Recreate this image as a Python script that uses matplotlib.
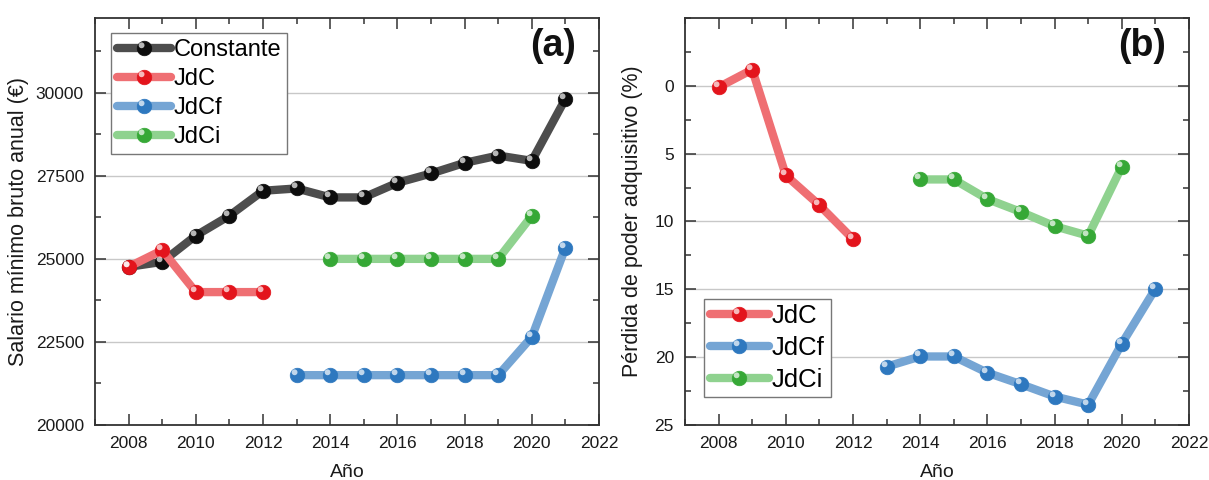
"""Salario mínimo y pérdida de poder adquisitivo, paneles (a) y (b)."""

import matplotlib

matplotlib.use("Agg")

import matplotlib.pyplot as plt
import numpy as np
from matplotlib.legend_handler import HandlerTuple
from matplotlib.path import Path
from matplotlib.ticker import MultipleLocator

plt.rcParams["font.family"] = ["Liberation Sans", "DejaVu Sans"]

# ---- data -----------------------------------------------------------------
years_constante = [2008, 2009, 2010, 2011, 2012, 2013, 2014, 2015, 2016,
                   2017, 2018, 2019, 2020, 2021]
salario_constante = [24760, 24910, 25700, 26300, 27050, 27120, 26850, 26850,
                     27290, 27570, 27890, 28110, 27950, 29820]

years_jdc = [2008, 2009, 2010, 2011, 2012]
salario_jdc = [24760, 25260, 24000, 24000, 24000]

years_jdcf = [2013, 2014, 2015, 2016, 2017, 2018, 2019, 2020, 2021]
salario_jdcf = [21500, 21500, 21500, 21500, 21500, 21500, 21500, 22650, 25340]

years_jdci = [2014, 2015, 2016, 2017, 2018, 2019, 2020]
salario_jdci = [25000, 25000, 25000, 25000, 25000, 25000, 26300]

perdida_jdc = [0.1, -1.2, 6.6, 8.8, 11.3]
perdida_jdcf = [20.7, 19.95, 19.95, 21.15, 22.0, 22.9, 23.5, 19.0, 14.95]
perdida_jdci = [6.9, 6.9, 8.35, 9.3, 10.35, 11.05, 5.95]

# ---- styles ---------------------------------------------------------------
STYLES = {
    "Constante": {"line": "#4d4d4d", "marker": "#0d0d0d"},
    "JdC": {"line": "#ef6f73", "marker": "#e3141c"},
    "JdCf": {"line": "#75a5d4", "marker": "#2e78bf"},
    "JdCi": {"line": "#8fd28f", "marker": "#36a836"},
}

# small offset circle used as a "shine" on each sphere-like marker.
# matplotlib scales a path marker so its largest |coord| becomes 0.5, so a
# symmetric frame point at +-1 keeps the spot at a fixed relative offset.
_t = np.linspace(0, 2 * np.pi, 40)
_hl = np.column_stack([-0.2 + 0.2 * np.cos(_t), 0.22 + 0.2 * np.sin(_t)])
_frame = np.array([[1.0, 1.0], [1.0, 1.0]])
HIGHLIGHT = Path(
    np.vstack([_hl, _hl[:1], _frame]),
    [Path.MOVETO] + [Path.LINETO] * (len(_hl) - 1) + [Path.CLOSEPOLY]
    + [Path.MOVETO, Path.LINETO],
)

MS = 10.5
LW = 6.0
TEXT = "#1a1a1a"


def draw_series(ax, xs, ys, name):
    style = STYLES[name]
    (line,) = ax.plot(
        xs, ys,
        color=style["line"],
        linewidth=LW,
        solid_capstyle="round",
        marker="o",
        markersize=MS,
        markerfacecolor=style["marker"],
        markeredgecolor=style["marker"],
        markeredgewidth=0.5,
        zorder=3,
    )
    (shine,) = ax.plot(
        xs, ys,
        linestyle="none",
        marker=HIGHLIGHT,
        markersize=MS * 2,
        markerfacecolor="white",
        markeredgewidth=0,
        alpha=0.7,
        zorder=4,
    )
    return (line, shine)


def style_axes(ax):
    ax.set_xlim(2007, 2022)
    ax.xaxis.set_major_locator(MultipleLocator(2))
    ax.xaxis.set_minor_locator(MultipleLocator(1))
    ax.tick_params(which="both", direction="in", top=True, right=True,
                   labelsize=12.5, colors="#333333", labelcolor=TEXT, pad=8)
    ax.tick_params(which="major", length=8, width=1.1)
    ax.tick_params(which="minor", length=4, width=1.1)
    for spine in ax.spines.values():
        spine.set_linewidth(1.3)
        spine.set_color("#333333")
    ax.grid(True, axis="y", which="major", color="#c8c8c8", linewidth=1.0, zorder=0)
    ax.set_axisbelow(True)
    ax.set_xlabel("Año", fontsize=14, color=TEXT, labelpad=9)


fig = plt.figure(figsize=(12.09, 4.8), dpi=100)
ax_a = fig.add_axes([0.0786, 0.1146, 0.4169, 0.8479])
ax_b = fig.add_axes([0.5666, 0.1146, 0.4169, 0.8479])

# ---- panel (a) ------------------------------------------------------------
style_axes(ax_a)
h_const = draw_series(ax_a, years_constante, salario_constante, "Constante")
h_jdc = draw_series(ax_a, years_jdc, salario_jdc, "JdC")
h_jdcf = draw_series(ax_a, years_jdcf, salario_jdcf, "JdCf")
h_jdci = draw_series(ax_a, years_jdci, salario_jdci, "JdCi")
ax_a.set_ylim(20000, 32250)
ax_a.set_yticks([20000, 22500, 25000, 27500, 30000])
ax_a.yaxis.set_minor_locator(MultipleLocator(1250))
ax_a.set_ylabel("Salario mínimo bruto anual (€)", fontsize=15.5, color=TEXT, labelpad=5)
ax_a.text(0.955, 0.93, "(a)", transform=ax_a.transAxes, ha="right", va="center",
          fontsize=27, fontweight="bold", color="#111111")
leg_a = ax_a.legend(
    [h_const, h_jdc, h_jdcf, h_jdci], ["Constante", "JdC", "JdCf", "JdCi"],
    handler_map={tuple: HandlerTuple(ndivide=1)},
    loc="upper left", bbox_to_anchor=(0.031, 0.963),
    fontsize=17, handlelength=2.3, handletextpad=0.12, labelspacing=0.3,
    borderpad=0.25, borderaxespad=0.0, fancybox=False, framealpha=1,
    edgecolor="#777777",
)
leg_a.get_frame().set_linewidth(1.0)

# ---- panel (b) ------------------------------------------------------------
style_axes(ax_b)
hb_jdc = draw_series(ax_b, years_jdc, perdida_jdc, "JdC")
hb_jdcf = draw_series(ax_b, years_jdcf, perdida_jdcf, "JdCf")
hb_jdci = draw_series(ax_b, years_jdci, perdida_jdci, "JdCi")
ax_b.set_ylim(25, -5)
ax_b.set_yticks([0, 5, 10, 15, 20, 25])
ax_b.yaxis.set_minor_locator(MultipleLocator(2.5))
ax_b.set_ylabel("Pérdida de poder adquisitivo (%)", fontsize=15.5, color=TEXT, labelpad=8)
ax_b.text(0.955, 0.93, "(b)", transform=ax_b.transAxes, ha="right", va="center",
          fontsize=27, fontweight="bold", color="#111111")
leg_b = ax_b.legend(
    [hb_jdc, hb_jdcf, hb_jdci], ["JdC", "JdCf", "JdCi"],
    handler_map={tuple: HandlerTuple(ndivide=1)},
    loc="lower left", bbox_to_anchor=(0.038, 0.068),
    fontsize=18.5, handlelength=2.3, handletextpad=0.12, labelspacing=0.3,
    borderpad=0.22, borderaxespad=0.0, fancybox=False, framealpha=1,
    edgecolor="#777777",
)
leg_b.get_frame().set_linewidth(1.0)

fig.savefig("out.png", dpi=100)
